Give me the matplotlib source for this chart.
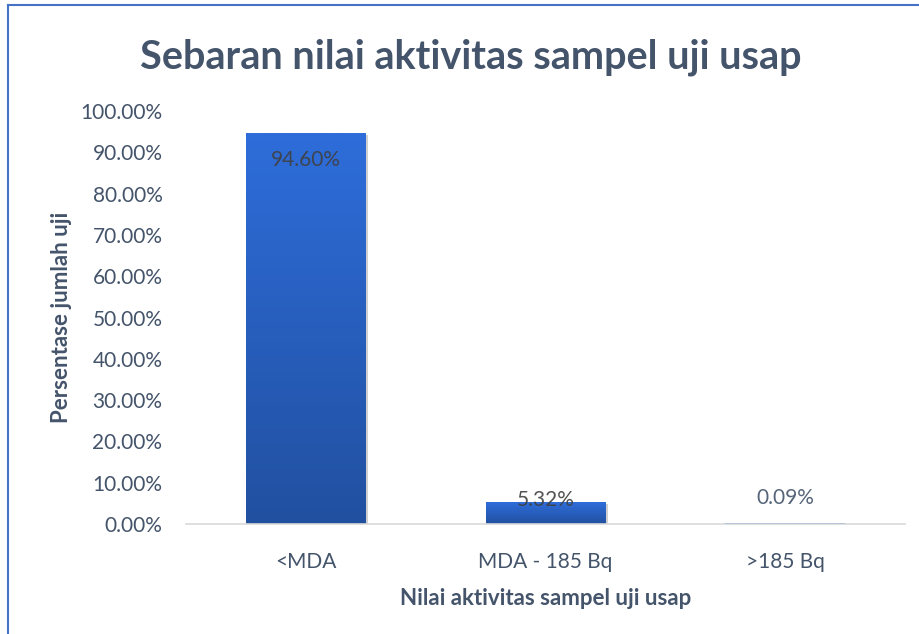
import numpy as np
import matplotlib
matplotlib.use("Agg")
import matplotlib.pyplot as plt
from matplotlib.patches import Rectangle
from matplotlib.colors import LinearSegmentedColormap

# Data
categories = ["<MDA", "MDA - 185 Bq", ">185 Bq"]
values = [94.60, 5.32, 0.09]
value_labels = ["94.60%", "5.32%", "0.09%"]
yticks = [0, 10, 20, 30, 40, 50, 60, 70, 80, 90, 100]

txt_col = "#44546A"
plt.rcParams['font.family'] = ['Lato', 'DejaVu Sans']

fig = plt.figure(figsize=(9.19, 6.34), dpi=100)
ax = fig.add_axes([0.2024, 0.1735, 0.7824, 0.6514])

x = np.arange(len(categories))
bars = ax.bar(x, values, width=0.5, color="none", edgecolor="none", zorder=2)

# gradiente vertical en cada barra
cmap = LinearSegmentedColormap.from_list("azul", ["#2150A0", "#2E6DDA"])
grad = np.linspace(0, 1, 256).reshape(-1, 1)
for b in bars:
    x0, y0, w, h = b.get_x(), b.get_y(), b.get_width(), b.get_height()
    # sombra suave
    ax.add_patch(Rectangle((x0 + 0.01, y0 - 0.4), w, h, color="#D0D0D0", zorder=1, lw=0))
    ax.imshow(grad, cmap=cmap, origin="lower", aspect="auto",
              extent=(x0, x0 + w, y0, y0 + h), zorder=2)
    if h < 0.5:
        ax.plot([x0, x0 + w], [h, h], color="#B4C7E7", lw=1, zorder=3)

ax.set_xlim(-0.5, len(categories) - 0.5)
ax.set_ylim(0, 100)

# etiquetas de datos
offsets = [-27, 2, 26]
label_cols = ["#404040", "#404040", txt_col]
for xi, v, lab, off, c in zip(x, values, value_labels, offsets, label_cols):
    ax.annotate(lab, (xi, v), xytext=(0, off * 0.72), textcoords="offset points",
                ha="center", va="center", fontsize=15, color=c, alpha=0.9, zorder=4)

ax.set_xticks(x)
ax.set_xticklabels(categories)
ax.set_yticks(yticks)
ax.set_yticklabels([f"{t:.2f}%" for t in yticks])
ax.tick_params(axis="both", length=0, labelsize=15, labelcolor=txt_col)
ax.tick_params(axis="x", pad=20)
ax.tick_params(axis="y", pad=17)

for s in ["top", "right", "left"]:
    ax.spines[s].set_visible(False)
ax.spines["bottom"].set_color("#D9D9D9")
ax.spines["bottom"].set_linewidth(1.2)

ax.set_xlabel("Nilai aktivitas sampel uji usap", fontsize=16, fontweight="bold",
              color=txt_col, labelpad=12)
ax.set_ylabel("Persentase jumlah uji", fontsize=16, fontweight="bold",
              color=txt_col, labelpad=6)

fig.text(0.512, 0.91, "Sebaran nilai aktivitas sampel uji usap", ha="center", va="center",
         fontsize=28.5, fontweight="bold", color=txt_col)

# borde del gráfico
fig.add_artist(plt.Line2D([0.0087, 0.0087], [0, 0.992], color="#4472C4", lw=1.5, transform=fig.transFigure))
fig.add_artist(plt.Line2D([0.0087, 1.0], [0.992, 0.992], color="#4472C4", lw=1.5, transform=fig.transFigure))

fig.savefig("out.png", dpi=100)
